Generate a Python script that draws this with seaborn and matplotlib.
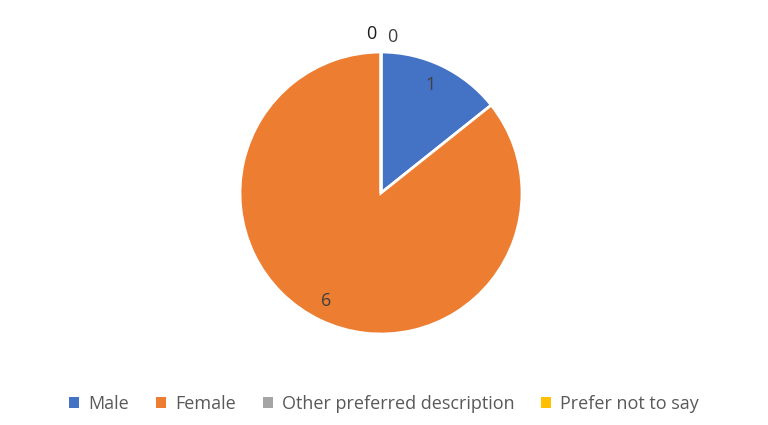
import numpy as np
import matplotlib
matplotlib.use("Agg")
import matplotlib.pyplot as plt
from matplotlib.patches import Patch
import seaborn as sns

categories = ["Male", "Female", "Other preferred description", "Prefer not to say"]
counts = [1, 6, 0, 0]
colors = ["#4472C4", "#ED7D31", "#A5A5A5", "#FFC000"]

sns.set_theme(style="white")
plt.rcParams['font.family'] = ['Open Sans', 'DejaVu Sans']

fig = plt.figure(figsize=(7.68, 4.25), dpi=100)
cx, cy, r = 381, 193, 141
ax = fig.add_axes([(cx - r) / 768, (425 - cy - r) / 425, 2 * r / 768, 2 * r / 425])

wedges, _ = ax.pie(counts, colors=colors, startangle=90, counterclock=False,
                   radius=1, wedgeprops=dict(edgecolor="white", linewidth=2))
ax.set_xlim(-1, 1)
ax.set_ylim(-1, 1)
ax.axis("off")

# data labels
zero_shift = [-0.07, 0.08]
zi = 0
for w, v in zip(wedges, counts):
    mid = np.deg2rad((w.theta1 + w.theta2) / 2)
    if v > 0:
        d = 0.85
        ax.text(d * np.cos(mid) - 0.02, d * np.sin(mid), str(v), ha="center", va="center",
                fontsize=13, color="#404040")
    else:
        d = 1.13
        ax.text(d * np.cos(mid) + zero_shift[zi], d * np.sin(mid) - 0.025 * zi, str(v),
                ha="center", va="center", fontsize=13,
                color="#1a1a1a" if zi == 0 else "#404040", clip_on=False)
        zi += 1

handles = [Patch(facecolor=c, edgecolor="none") for c in colors]
fig.legend(handles, categories, loc="center", bbox_to_anchor=(0.5, (425 - 404) / 425),
           ncol=4, frameon=False, fontsize=13, labelcolor="#595959",
           handlelength=0.55, handleheight=0.55, handletextpad=0.5, columnspacing=1.5)

fig.savefig("out.png", dpi=100)
